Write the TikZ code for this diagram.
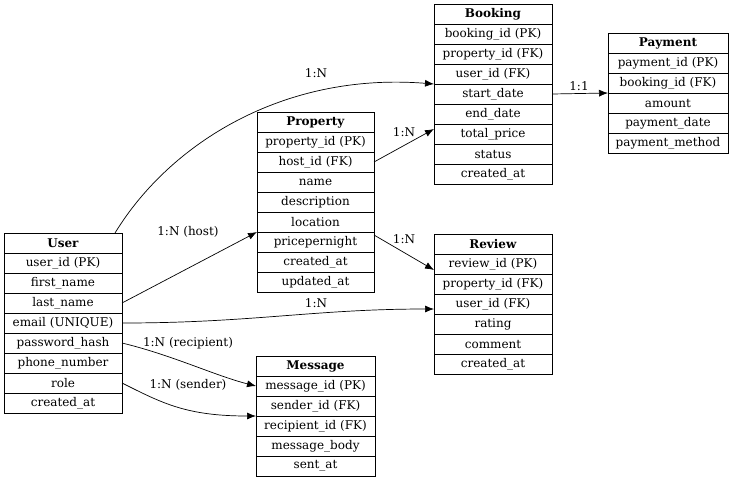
\documentclass[tikz,border=0pt]{standalone}
\usepackage{fontspec}
\setmainfont{DejaVu Serif}
\usetikzlibrary{
    arrows.meta,
    positioning,
    calc
}
% #1 name, #2 top left corner, #3 width, #4 title, #5 fields
\newcommand{\entity}[5]{%
    \node[header, minimum width=#3] (#1) at (#2) {\textbf{#4}};
    \foreach \field [count=\i] in {#5} {
        \node[field, minimum width=#3] (#1-\i) at ($(#2)+(0,20*\i)$) {\field};
    }%
}

\begin{document}
\begin{tikzpicture}[
        x=1pt, y=-1pt,
        field/.style={draw, line width=0.8pt, anchor=north west, minimum height=20pt, inner sep=0pt, outer sep=0pt, font=\fontsize{12}{14}\selectfont},
        header/.style={field},
        rel/.style={-{Latex[length=9pt, width=7pt]}, line width=0.7pt},
        lbl/.style={inner sep=1pt, font=\fontsize{12}{14}\selectfont}
    ]
        \useasboundingbox (0,0) rectangle (735,480);

        % Tables
        \entity{user}{4,233}{118pt}{User}{user\_id (PK), first\_name, last\_name, email (UNIQUE), password\_hash, phone\_number, role, created\_at}
        \entity{property}{257,112}{117pt}{Property}{property\_id (PK), host\_id (FK), name, description, location, pricepernight, created\_at, updated\_at}
        \entity{booking}{434,4}{118pt}{Booking}{booking\_id (PK), property\_id (FK), user\_id (FK), start\_date, end\_date, total\_price, status, created\_at}
        \entity{payment}{608,33}{120pt}{Payment}{payment\_id (PK), booking\_id (FK), amount, payment\_date, payment\_method}
        \entity{review}{434,234}{118pt}{Review}{review\_id (PK), property\_id (FK), user\_id (FK), rating, comment, created\_at}
        \entity{message}{256,356}{119pt}{Message}{message\_id (PK), sender\_id (FK), recipient\_id (FK), message\_body, sent\_at}

        % Relations
        \draw[rel] ([xshift=-7pt]user.north east) .. controls +(55,-90) and +(-150,-12) .. (booking-3.south west);
        \draw[rel] (user-3.east) -- (property-5.south west);
        \draw[rel] (user-4.east) .. controls +(130,0) and +(-120,0) .. ([yshift=-5pt]review-3.west);
        \draw[rel] (user-5.east) .. controls +(50,12) and +(-40,-10) .. (message-1.west);
        \draw[rel] (user-7.east) .. controls +(40,20) and +(-70,0) .. (message-2.south west);
        \draw[rel] (property-2.east) -- ([yshift=5pt]booking-6.west);
        \draw[rel] ([yshift=-3pt]property-6.north east) -- ([yshift=4pt]review-1.south west);
        \draw[rel] (booking-4.east) -- (payment-2.south west);

        % Labels
        \node[lbl] (l-bk) at (316,73) {1:N};
        \node[lbl] (l-host) at (188,232) {1:N (host)};
        \node[lbl] (l-rv) at (316,303) {1:N};
        \node[lbl] (l-rcp) at (188,343) {1:N (recipient)};
        \node[lbl] (l-snd) at (188,385) {1:N (sender)};
        \node[lbl] (l-pb) at (404,132) {1:N};
        \node[lbl] (l-pr) at (404,239) {1:N};
        \node[lbl] (l-pay) at (579,86) {1:1};
    \end{tikzpicture}
\end{document}
